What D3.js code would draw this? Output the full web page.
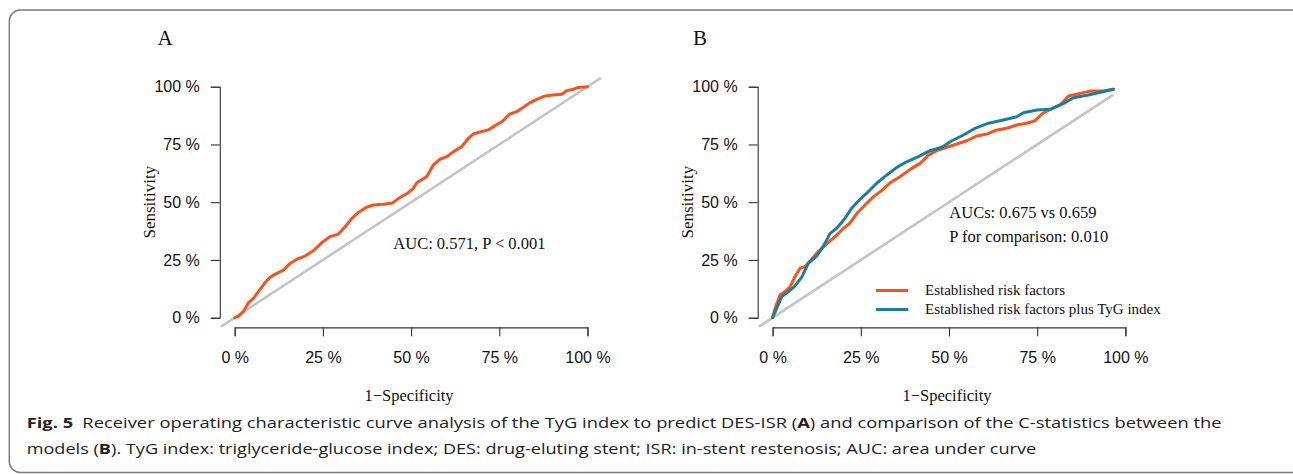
<!DOCTYPE html>
<html>
<head>
<meta charset="utf-8">
<script src="https://cdn.jsdelivr.net/npm/d3@7"></script>
<style>
  html, body { margin: 0; padding: 0; background: #fff; }
  svg { display: block; }
</style>
</head>
<body>
<svg id="chart" width="1293" height="474"></svg>
<script>
// ---------------- data ----------------
const tickValues = [0, 25, 50, 75, 100];
const tickLabels = ["0 %", "25 %", "50 %", "75 %", "100 %"];

// Panel A: TyG index ROC (1-specificity %, sensitivity %)
const aFpr = [0, 1.0, 2.4, 3.9, 5.3, 7.2, 8.6, 10.0, 11.9, 13.8, 15.7, 17.6, 19.9, 22.3, 24.7, 27.0, 29.4, 31.3, 33.2, 35.0, 37.4, 39.3, 42.1, 44.5, 46.9, 49.2, 50.6, 51.6, 54.4, 56.3, 58.2, 60.1, 62.0, 64.3, 66.2, 67.6, 69.5, 71.9, 73.3, 75.7, 78.0, 79.9, 81.8, 83.7, 85.6, 88.0, 90.3, 92.7, 94.1, 96.0, 97.4, 100];
const aTpr = [0, 0.6, 2.6, 6.5, 8.4, 12.3, 15.2, 17.5, 19.2, 20.6, 23.5, 25.3, 26.7, 29.0, 32.5, 35.1, 36.2, 39.4, 43.0, 45.5, 47.8, 48.8, 49.1, 49.5, 52.1, 54.1, 56.0, 58.4, 61.0, 66.1, 68.6, 69.7, 71.9, 74.0, 77.6, 79.5, 80.4, 81.3, 82.7, 84.8, 88.2, 89.2, 91.1, 93.1, 94.5, 96.0, 96.4, 96.7, 98.3, 98.9, 99.7, 100];

// Panel B: established risk factors
const bFprEst = [0, 0.7, 2.1, 3.5, 4.9, 6.3, 7.8, 9.2, 10.6, 12.5, 14.4, 16.3, 18.2, 20.1, 21.9, 23.9, 26.2, 28.6, 30.9, 33.3, 36.1, 39.0, 41.8, 44.2, 46.5, 49.4, 52.2, 55.0, 57.9, 60.7, 63.6, 66.4, 69.2, 72.1, 74.4, 76.3, 78.7, 81.5, 83.9, 87.2, 90.0, 93.8, 96.6];
const bTprEst = [0, 4.1, 9.8, 11.3, 13.2, 17.7, 21.4, 22.1, 24.5, 27.9, 30.7, 33.3, 35.8, 38.7, 40.9, 45.2, 48.8, 52.4, 55.0, 58.4, 61.0, 64.2, 66.8, 70.4, 72.3, 73.8, 75.2, 76.6, 78.7, 79.5, 81.3, 82.0, 83.4, 84.2, 85.3, 88.2, 90.2, 92.1, 96.0, 97.1, 98.1, 98.1, 98.9];
// Panel B: established risk factors plus TyG index
const bFprTyg = [0, 1.2, 2.6, 4.5, 6.3, 8.3, 10.1, 12.5, 14.4, 16.3, 18.2, 20.5, 22.4, 24.8, 27.1, 29.5, 32.4, 35.2, 38.0, 41.3, 44.6, 48.0, 50.8, 54.1, 57.4, 61.2, 65.4, 69.2, 71.1, 74.9, 78.7, 82.5, 85.3, 89.1, 92.9, 96.6];
const bTprTyg = [0, 4.1, 9.1, 11.3, 13.7, 17.7, 23.5, 26.7, 31.0, 36.5, 38.7, 43.0, 47.4, 51.3, 54.5, 58.2, 61.8, 65.1, 67.5, 69.7, 72.3, 73.8, 76.6, 79.1, 82.0, 84.2, 85.6, 87.0, 88.7, 89.9, 90.2, 92.8, 95.2, 96.3, 97.6, 98.9];

// reference diagonals (extent of the drawn chance line, %)
const diagA = [-4, 104];
const diagB = [-4, 96.6];

const seriesNames = ["Established risk factors", "Established risk factors plus TyG index"];
const aucTextA = ["AUC: 0.571, P < 0.001"];
const aucTextB = ["AUCs: 0.675 vs 0.659", "P for comparison: 0.010"];

// ---------------- styles ----------------
const ORANGE = "#FA521C";
const TEAL = "#1A7E9C";
const GREY = "#C4C4C4";
const AXIS = "#333";
const SANS = "'Liberation Sans', Arial, Helvetica, sans-serif";
const SERIF = "'Liberation Serif', 'Times New Roman', serif";

const svg = d3.select("#chart");
svg.append("rect").attr("width", 1293).attr("height", 474).attr("fill", "#fff");

// frame
svg.append("rect")
  .attr("x", 9.3).attr("y", 10).attr("width", 1300).attr("height", 462.5)
  .attr("rx", 11).attr("ry", 11)
  .attr("fill", "none").attr("stroke", "#7a7a7a").attr("stroke-width", 1.4);

function panel(opts) {
  const g = svg.append("g");
  const x = d3.scaleLinear().domain([0, 100]).range([opts.x0, opts.x0 + 352.8]);
  const y = d3.scaleLinear().domain([0, 100]).range([317.7, 86.7]);
  const xr = d3.scaleLinear().domain([-4, 104]).range([x(-4), x(104)]);

  const clipId = "clip" + opts.id;
  g.append("clipPath").attr("id", clipId).append("rect")
    .attr("x", x(-4)).attr("y", y(104)).attr("width", x(104) - x(-4)).attr("height", y(-4) - y(104));

  // diagonal
  const line = d3.line().x(d => x(d[0])).y(d => y(d[1]));
  g.append("path")
    .datum(opts.diag.map(v => [v, v]))
    .attr("d", line)
    .attr("clip-path", `url(#${clipId})`)
    .attr("fill", "none").attr("stroke", GREY).attr("stroke-width", 2.6);

  // curves
  opts.series.forEach(s => {
    g.append("path")
      .datum(s.fpr.map((f, i) => [f, s.tpr[i]]))
      .attr("d", line)
      .attr("fill", "none").attr("stroke", s.color).attr("stroke-width", 3)
      .attr("stroke-linejoin", "round").attr("stroke-linecap", "round");
  });

  // axes
  const yAxis = d3.axisLeft(y).tickValues(tickValues).tickFormat((d, i) => tickLabels[i])
    .tickSizeOuter(0).tickSize(9).tickPadding(11);
  const xAxis = d3.axisBottom(x).tickValues(tickValues).tickFormat((d, i) => tickLabels[i])
    .tickSizeOuter(0).tickSize(9).tickPadding(15.6);
  const ya = g.append("g").attr("transform", `translate(${x(-4) - 0.8},0)`).call(yAxis);
  const xa = g.append("g").attr("transform", `translate(0,${y(-4) + 0.4})`).call(xAxis);
  [ya, xa].forEach(a => {
    a.selectAll("path, line").attr("stroke", AXIS).attr("stroke-width", 1.1);
    a.selectAll("text").attr("fill", "#111").style("font-family", SANS).style("font-size", "16px");
  });

  // axis titles
  g.append("text")
    .attr("transform", `translate(${opts.ylabX},${(y(0) + y(100)) / 2}) rotate(-90)`)
    .attr("text-anchor", "middle")
    .style("font-family", SERIF).style("font-size", "17px").attr("fill", "#111")
    .text("Sensitivity");
  g.append("text")
    .attr("x", x(50) - 2).attr("y", 401)
    .attr("text-anchor", "middle")
    .style("font-family", SERIF).style("font-size", "16.5px").attr("fill", "#111")
    .text("1\u2212Specificity");

  // panel letter
  g.append("text")
    .attr("x", opts.letterX).attr("y", 45)
    .style("font-family", SERIF).style("font-size", "21px").attr("fill", "#111")
    .text(opts.letter);

  // annotations
  opts.notes.forEach((t, i) => {
    g.append("text")
      .attr("x", opts.noteX).attr("y", opts.noteY + i * 24)
      .style("font-family", SERIF).style("font-size", "16.5px").attr("fill", "#111")
      .text(t);
  });
  return { g, x, y };
}

panel({
  id: "A", x0: 234.7, diag: diagA, letter: "A", letterX: 157.5, ylabX: 155.4,
  series: [{ fpr: aFpr, tpr: aTpr, color: ORANGE }],
  notes: aucTextA, noteX: 393.3, noteY: 249.3
});

const pB = panel({
  id: "B", x0: 772.6, diag: diagB, letter: "B", letterX: 693, ylabX: 692.5,
  series: [
    { fpr: bFprEst, tpr: bTprEst, color: ORANGE },
    { fpr: bFprTyg, tpr: bTprTyg, color: TEAL }
  ],
  notes: aucTextB, noteX: 949.3, noteY: 218.3
});

// legend (panel B)
const legend = svg.append("g");
const legendColors = [ORANGE, TEAL];
seriesNames.forEach((name, i) => {
  const yy = 290.5 + i * 19;
  legend.append("line").attr("x1", 876).attr("x2", 908.3).attr("y1", yy).attr("y2", yy)
    .attr("stroke", legendColors[i]).attr("stroke-width", 3);
  legend.append("text").attr("x", 925).attr("y", yy + 4.5)
    .style("font-family", SERIF).style("font-size", "15px").attr("fill", "#111")
    .text(name);
});

// caption
const CAP = "'Open Sans', 'Noto Sans', sans-serif";
function captionLine(parts, yb, targetWidth) {
  const t = svg.append("text").attr("x", 0).attr("y", 0)
    .style("font-family", CAP).style("font-size", "15px").attr("fill", "#222");
  parts.forEach(p => {
    t.append("tspan").attr("font-weight", p.b ? 700 : 400).text(p.t);
  });
  const w = t.node().getComputedTextLength();
  const s = targetWidth / w;
  t.attr("transform", `translate(26.7,${yb}) scale(${s},1)`);
}
captionLine([
  { t: "Fig. 5", b: true },
  { t: "\u2002Receiver operating characteristic curve analysis of the TyG index to predict DES-ISR (" },
  { t: "A", b: true },
  { t: ") and comparison of the C-statistics between the" }
], 428, 1195);
captionLine([
  { t: "models (" },
  { t: "B", b: true },
  { t: "). TyG index: triglyceride-glucose index; DES: drug-eluting stent; ISR: in-stent restenosis; AUC: area under curve" }
], 453.5, 1010);
</script>
</body>
</html>
